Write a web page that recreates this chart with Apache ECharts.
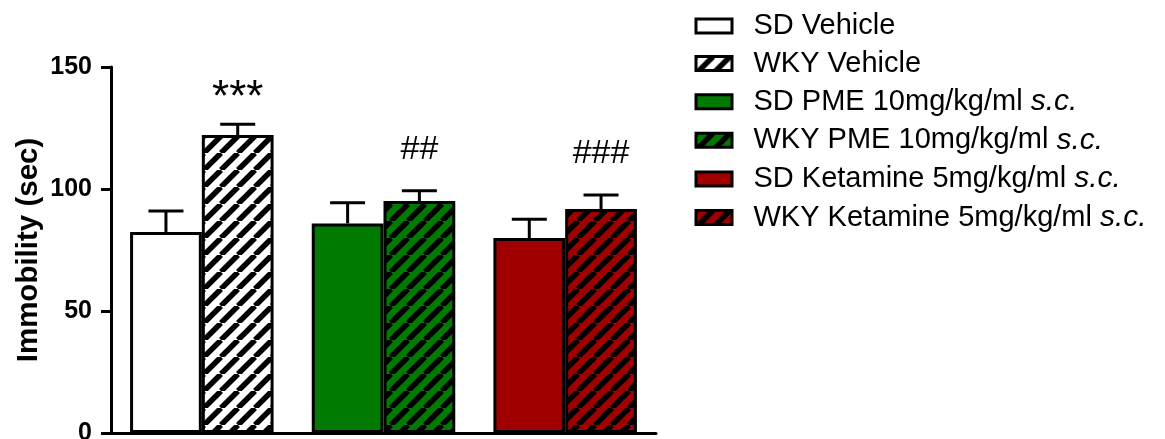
<!DOCTYPE html>
<html>
<head>
<meta charset="utf-8">
<script src="https://cdn.jsdelivr.net/npm/echarts@6/dist/echarts.min.js"></script>
<style>
  html, body { margin: 0; padding: 0; background: #ffffff; }
  #chart { width: 1165px; height: 439px; }
</style>
</head>
<body>
<div id="chart"></div>
<script>
// Treatment groups, one x category each
const groups = ['Vehicle', 'PME 10mg/kg/ml s.c.', 'Ketamine 5mg/kg/ml s.c.'];
// Mean immobility time (sec) and SEM, per strain
const sdMean = [82.4, 85.9, 79.9];
const sdSem = [8.6, 8.5, 7.7];
const wkyMean = [122.1, 95.1, 91.8];
const wkySem = [4.4, 4.2, 5.7];
// Significance marks above the WKY bars
const sigMarks = ['***', '##', '###'];
// Legend entries, in drawing order (SD / WKY per group)
const seriesNames = [
  'SD Vehicle', 'WKY Vehicle',
  'SD PME 10mg/kg/ml s.c.', 'WKY PME 10mg/kg/ml s.c.',
  'SD Ketamine 5mg/kg/ml s.c.', 'WKY Ketamine 5mg/kg/ml s.c.'
];
// y axis ticks
const yTicks = [0, 50, 100, 150];

const FONT = '"Liberation Sans", Arial, Helvetica, sans-serif';
const groupColors = ['#ffffff', '#007a00', '#a00000'];
const GAP = 0.21;

// diagonal "/" hatch on a solid background
function hatch(bg) {
  const P = 17;
  const c = document.createElement('canvas');
  c.width = P; c.height = P;
  const g = c.getContext('2d');
  g.fillStyle = bg;
  g.fillRect(0, 0, P, P);
  g.strokeStyle = '#000000';
  g.lineWidth = 5.5;
  g.beginPath();
  for (let k = -1; k <= 1; k++) {
    g.moveTo(k * P, P);
    g.lineTo(k * P + P, 0);
  }
  g.stroke();
  return { image: c, repeat: 'repeat' };
}

const barSeries = seriesNames.map((name, k) => {
  const gi = Math.floor(k / 2);
  const isWky = k % 2 === 1;
  const src = isWky ? wkyMean : sdMean;
  const base = groupColors[gi];
  return {
    type: 'bar',
    name: name,
    stack: isWky ? 'WKY' : 'SD',
    data: groups.map((_, i) => (i === gi ? src[i] : '-')),
    barCategoryGap: (GAP * 100) + '%',
    barGap: '0%',
    itemStyle: {
      color: isWky ? hatch(base) : base,
      borderColor: '#000000',
      borderWidth: 3
    },
    emphasis: { disabled: true },
    z: 2
  };
});

// error bar rows: [category index, mean, sem, side(-1 SD / +1 WKY)]
const errRows = [];
const errMarks = [];
groups.forEach((_, i) => {
  errRows.push([i, sdMean[i], sdSem[i], -1]);
  errMarks.push('');
  errRows.push([i, wkyMean[i], wkySem[i], 1]);
  errMarks.push(sigMarks[i]);
});

function markStyle(mark) {
  return mark.charAt(0) === '*'
    ? { size: 44, lift: 3 }
    : { size: 34, lift: 24 };
}

const errorSeries = {
  type: 'custom',
  name: 'SEM',
  data: errRows,
  encode: { x: 0, y: 1 },
  silent: true,
  clip: false,
  z: 5,
  renderItem: function (params, api) {
    const i = api.value(0);
    const m = api.value(1);
    const s = api.value(2);
    const side = api.value(3);
    const band = api.size([1, 0])[0];
    const bw = band * (1 - GAP) / 2;
    const cx = api.coord([i, 0])[0] + side * bw / 2;
    const yTop = api.coord([i, m])[1];
    const yCap = api.coord([i, m + s])[1];
    const half = 17.5;
    const children = [
      { type: 'line', shape: { x1: cx, y1: yTop, x2: cx, y2: yCap },
        style: { stroke: '#000000', lineWidth: 3 } },
      { type: 'line', shape: { x1: cx - half, y1: yCap, x2: cx + half, y2: yCap },
        style: { stroke: '#000000', lineWidth: 3 } }
    ];
    const mark = errMarks[params.dataIndex];
    if (mark) {
      const ms = markStyle(mark);
      children.push({
        type: 'text',
        style: {
          text: mark, x: cx, y: yCap - ms.lift,
          align: 'center', verticalAlign: 'bottom',
          fontFamily: FONT, fontSize: ms.size, fill: '#000000'
        }
      });
    }
    return { type: 'group', children: children };
  }
};

const chart = echarts.init(document.getElementById('chart'), null, { renderer: 'canvas' });
chart.setOption({
  animation: false,
  backgroundColor: '#ffffff',
  grid: { left: 111, right: 509, top: 67, bottom: 6, containLabel: false, outerBoundsMode: 'none' },
  legend: {
    orient: 'vertical',
    left: 694.5,
    top: 11.5,
    padding: 0,
    itemWidth: 36,
    itemHeight: 14,
    itemGap: 8.6,
    icon: 'rect',
    selectedMode: false,
    data: seriesNames,
    itemStyle: { borderColor: '#000000', borderWidth: 3 },
    formatter: function (name) {
      return name.replace(/ s\.c\.$/, ' {it|s.c.}');
    },
    textStyle: {
      fontFamily: FONT, fontSize: 29, color: '#000000', lineHeight: 29,
      padding: [0, 0, 0, 16.5],
      rich: {
        it: { fontFamily: FONT, fontSize: 30, fontStyle: 'italic', color: '#000000', lineHeight: 29 }
      }
    }
  },
  xAxis: {
    type: 'category',
    data: groups,
    axisLine: { lineStyle: { color: '#000000', width: 3 } },
    axisTick: { show: false },
    axisLabel: { show: false },
    splitLine: { show: false }
  },
  yAxis: {
    type: 'value',
    min: yTicks[0],
    max: yTicks[yTicks.length - 1],
    interval: yTicks[1] - yTicks[0],
    name: 'Immobility (sec)',
    nameLocation: 'middle',
    nameGap: 67,
    nameTextStyle: { fontFamily: FONT, fontSize: 29.5, fontWeight: 'bold', color: '#000000' },
    axisLine: { show: true, lineStyle: { color: '#000000', width: 3 } },
    axisTick: { show: true, length: 10, lineStyle: { color: '#000000', width: 3 } },
    axisLabel: { margin: 19, fontFamily: FONT, fontSize: 25, fontWeight: 'bold', color: '#000000' },
    splitLine: { show: false }
  },
  series: barSeries.concat([errorSeries])
});
</script>
</body>
</html>
